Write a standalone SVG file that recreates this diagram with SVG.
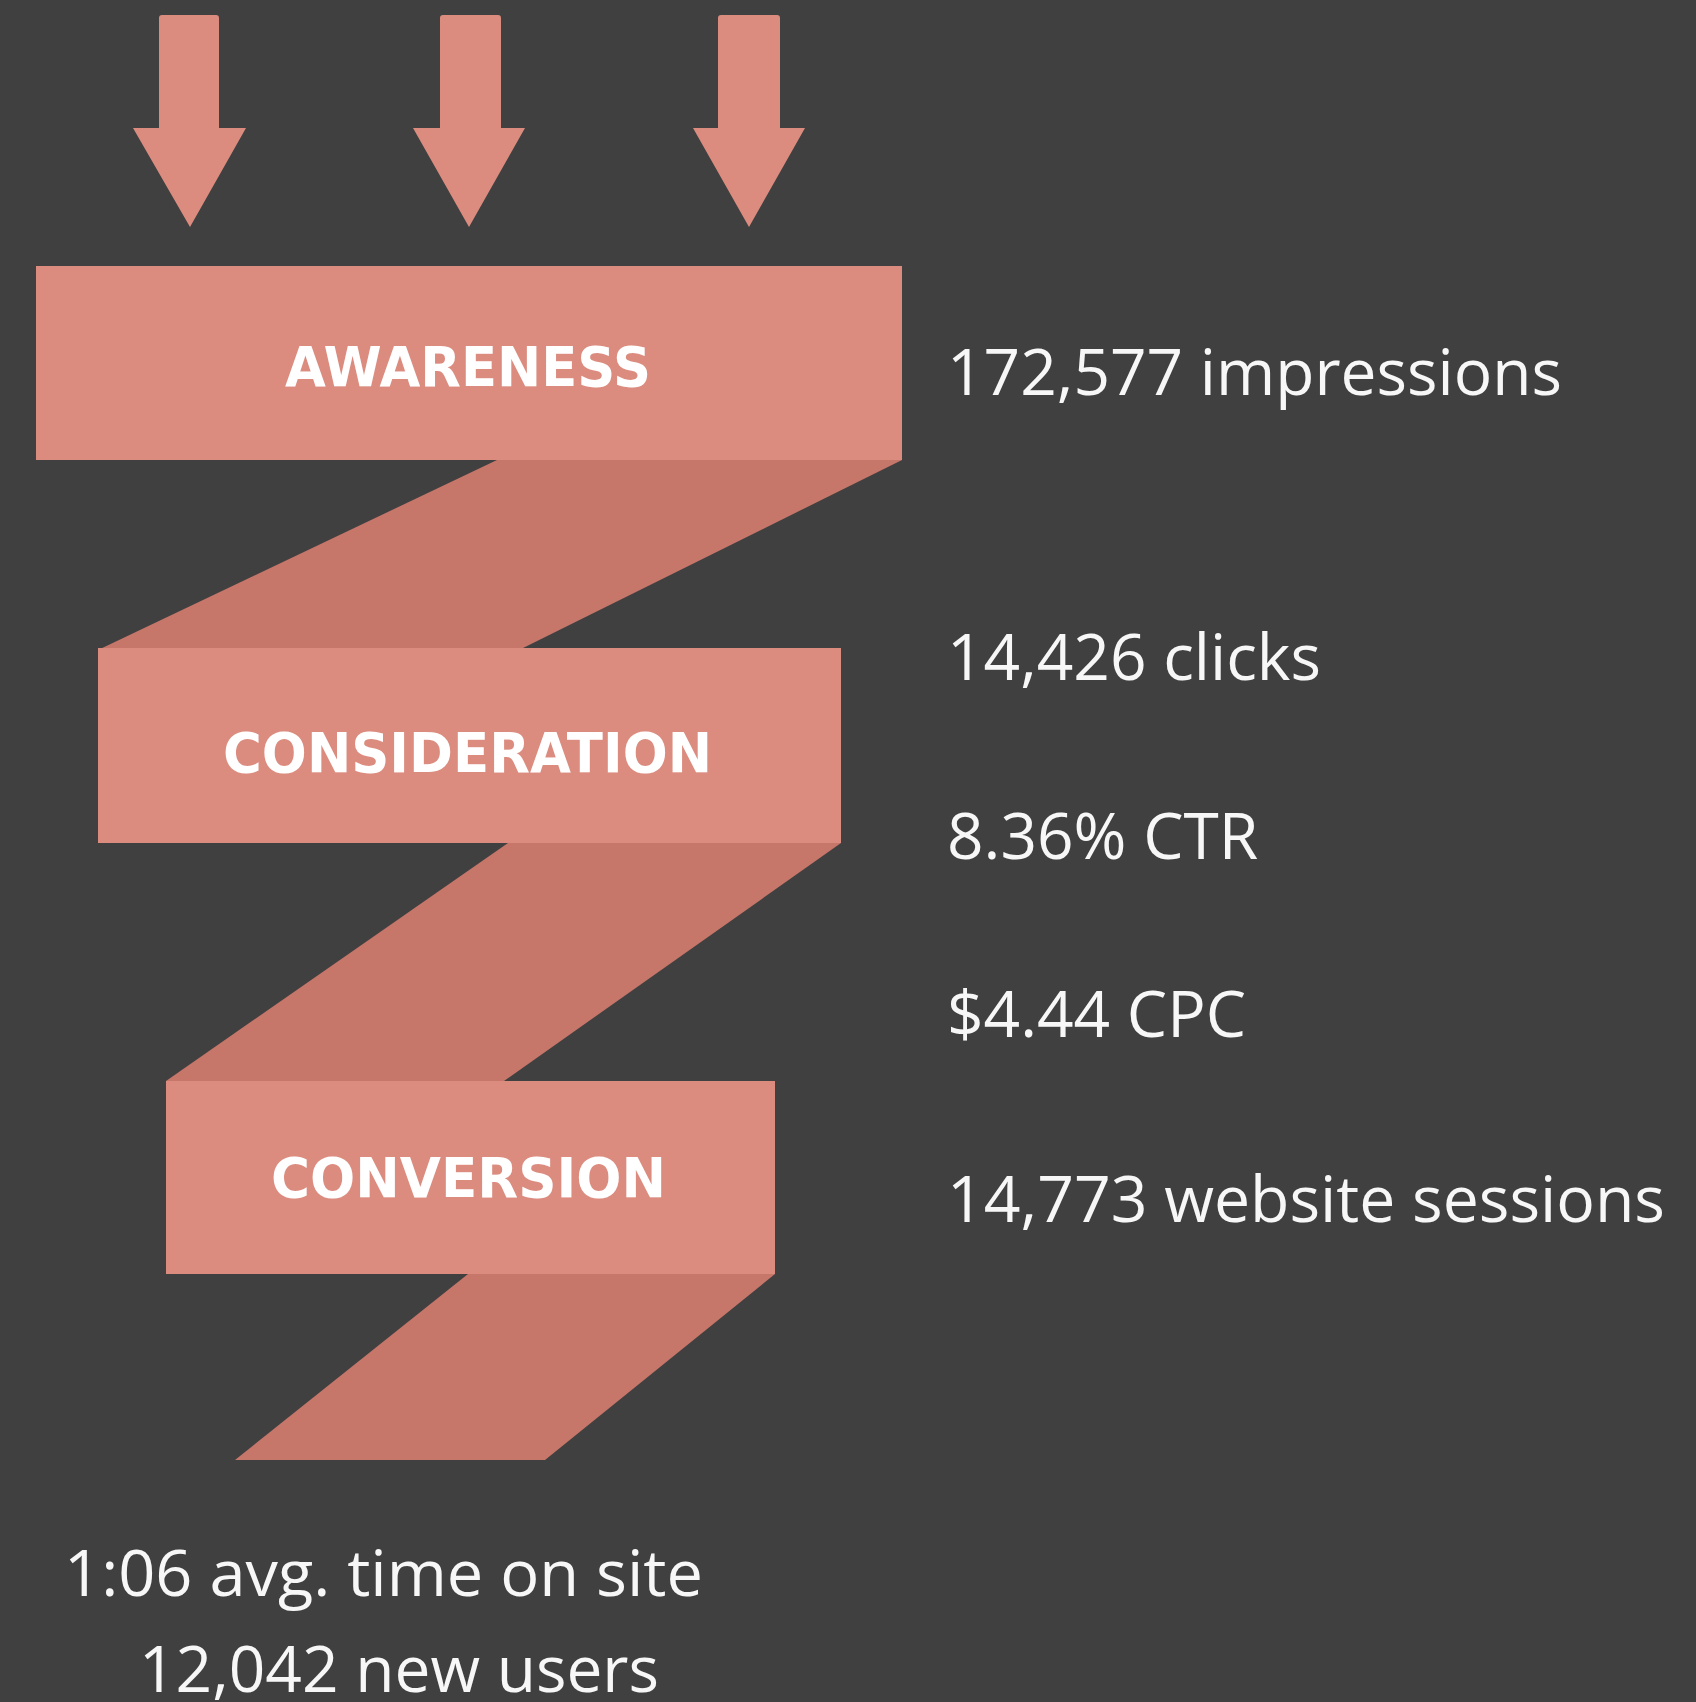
<svg xmlns="http://www.w3.org/2000/svg" width="1696" height="1702" viewBox="0 0 1696 1702">
<style>
.bg{fill:#404040}
.box{fill:#DB8C7F}
.band{fill:#C7766A}
.arrow{fill:#DB8C7F}
.lbl{font-family:"DejaVu Sans","Liberation Sans",sans-serif;font-size:55px;fill:#ffffff;font-weight:bold}
.stat{font-family:"Open Sans","Noto Sans",sans-serif;font-size:64px;fill:#f7f7f7}
</style>
<rect class="bg" x="0" y="0" width="1696" height="1702"/>
<g id="connectors">
<path class="arrow" d="M162,15 H216 Q219,15 219,18 V128 H246 L190,227 L133,128 H159 V18 Q159,15 162,15 Z"/>
<path class="arrow" d="M443,15 H498 Q501,15 501,18 V128 H525 L469,227 L413,128 H440 V18 Q440,15 443,15 Z"/>
<path class="arrow" d="M721,15 H777 Q780,15 780,18 V128 H805 L749,227 L693,128 H718 V18 Q718,15 721,15 Z"/>
<polygon class="band" points="497,460 902,460 521,649 98,650"/>
<polygon class="band" points="508,843 841,843 504,1081 166,1081"/>
<polygon class="band" points="468,1274 775,1274 545,1460 235,1460"/>
</g>
<g id="awareness">
<rect class="box" x="36" y="266" width="866" height="194"/>
<text class="lbl" x="285" y="386" textLength="366" lengthAdjust="spacingAndGlyphs">AWARENESS</text>
</g>
<g id="consideration">
<rect class="box" x="98" y="648" width="743" height="195"/>
<text class="lbl" x="223" y="772" textLength="489" lengthAdjust="spacingAndGlyphs">CONSIDERATION</text>
</g>
<g id="conversion">
<rect class="box" x="166" y="1081" width="609" height="193"/>
<text class="lbl" x="271" y="1197" textLength="395" lengthAdjust="spacingAndGlyphs">CONVERSION</text>
</g>
<g id="stats">
<text class="stat" x="947" y="395" textLength="615" lengthAdjust="spacingAndGlyphs">172,577 impressions</text>
<text class="stat" x="947" y="680">14,426 clicks</text>
<text class="stat" x="947" y="859">8.36% CTR</text>
<text class="stat" x="947" y="1037">$4.44 CPC</text>
<text class="stat" x="947" y="1222" textLength="718" lengthAdjust="spacingAndGlyphs">14,773 website sessions</text>
<text class="stat" x="64" y="1596" textLength="639" lengthAdjust="spacingAndGlyphs">1:06 avg.  time on site</text>
<text class="stat" x="139" y="1692" textLength="520" lengthAdjust="spacingAndGlyphs">12,042 new users</text>
</g>
</svg>
